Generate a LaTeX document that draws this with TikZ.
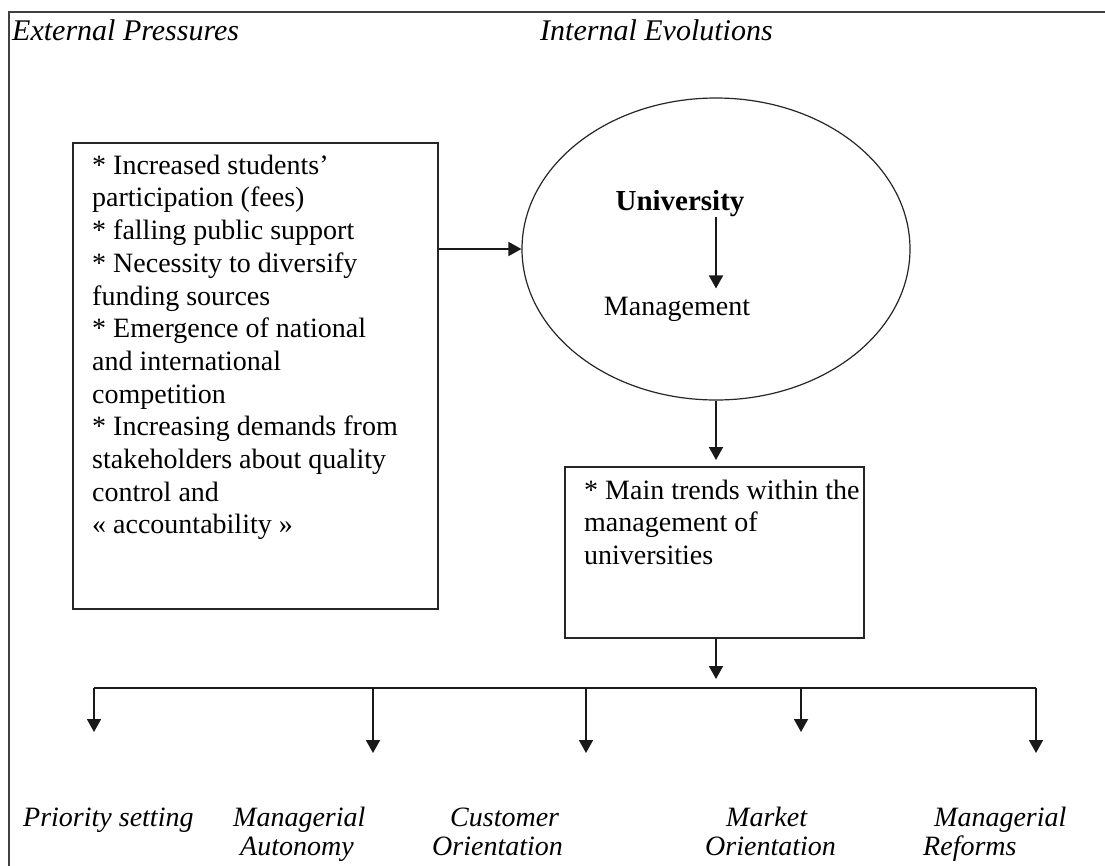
\documentclass[tikz,border=0pt]{standalone}
\usepackage{fontspec}
\setmainfont{Liberation Serif}
\usetikzlibrary{arrows.meta,shapes.geometric}
\begin{document}
\begin{tikzpicture}[x=1pt,y=-1pt,
  box/.style={draw=black!85, line width=1.8pt, inner sep=0pt, anchor=north west},
  body/.style={inner sep=0pt, anchor=north west, align=left,
    font=\fontsize{28}{32.7}\selectfont},
  heading/.style={inner sep=0pt, anchor=base west,
    font=\fontsize{30}{34}\selectfont\itshape},
  outcome/.style={inner sep=0pt, anchor=north west, align=left,
    font=\fontsize{28}{29}\selectfont\itshape},
  link/.style={line width=1.8pt, black!90, -{Triangle[length=13pt,width=14pt]}},
  bar/.style={line width=1.8pt, black!90},
]
\useasboundingbox (0,0) rectangle (1105,865);
\fill[white] (0,0) rectangle (1105,865);

% open frame: left and top edges only
\draw[line width=2.6pt, black!75] (9,870) -- (9,12) -- (1110,12);

% column headings
\node[heading] (ext) at (12,40) {External Pressures};
\node[heading] (int) at (540,40) {Internal Evolutions};

% external pressures box
\node[box, minimum width=365pt, minimum height=466pt] (press) at (72,142) {};
\node[body] (presstxt) at (92,152) {\rule{0pt}{22pt}* Increased students’\\
participation (fees)\\
* falling public support\\
* Necessity to diversify\\
funding sources\\
* Emergence of national\\
and international\\
competition\\
* Increasing demands from\\
stakeholders about quality\\
control and\\
« accountability »};

% university ellipse
\node[draw=black!85, line width=1.2pt, ellipse, minimum width=388pt,
  minimum height=302pt, inner sep=0pt] (ell) at (716,249) {};
\node[inner sep=1pt, anchor=base, font=\fontsize{29}{34}\selectfont\bfseries]
  (uni) at (680,210) {University};
\node[inner sep=1pt, anchor=base, font=\fontsize{28}{32}\selectfont]
  (mgmt) at (677,315) {Management};
\draw[link, shorten >=7pt] (uni.south -| ell.center) -- (mgmt.north -| ell.center);

% main trends box
\node[box, minimum width=299pt, minimum height=171pt] (trends) at (564,466) {};
\node[body] (trendstxt) at (584,477) {\rule{0pt}{22pt}* Main trends within the\\
management of\\
universities};

% connectors
\draw[link] (press.east |- ell.west) -- (ell.west);
\draw[link, shorten >=6pt] (ell.south) -- (ell.south |- trends.north);
\coordinate (split) at (716,679);
\draw[link] (ell.south |- trends.south) -- (split);

% distribution bar and drops
\coordinate (barL) at (94,688);
\coordinate (barR) at (1036,688);
\draw[bar] (barL) -- (barR);
\coordinate (t1) at (94,732);
\coordinate (t2) at (373,753);
\coordinate (t3) at (586,753);
\coordinate (t4) at (801,732);
\coordinate (t5) at (1036,753);
\foreach \t in {t1,t2,t3,t4,t5}
  \draw[link] (\t |- barL) -- (\t);

% outcomes
\node[outcome] (o1) at (23,804) {\rule{0pt}{22pt}Priority setting};
\node[outcome] (o2) at (233,804) {\rule{0pt}{22pt}Managerial\\\hspace*{7pt}Autonomy};
\node[outcome] (o3) at (432,804) {\rule{0pt}{22pt}\hspace*{18pt}Customer\\Orientation};
\node[outcome] (o4) at (705,804) {\rule{0pt}{22pt}\hspace*{21pt}Market\\Orientation};
\node[outcome] (o5) at (923,804) {\rule{0pt}{22pt}\hspace*{11pt}Managerial\\Reforms};
\end{tikzpicture}
\end{document}
